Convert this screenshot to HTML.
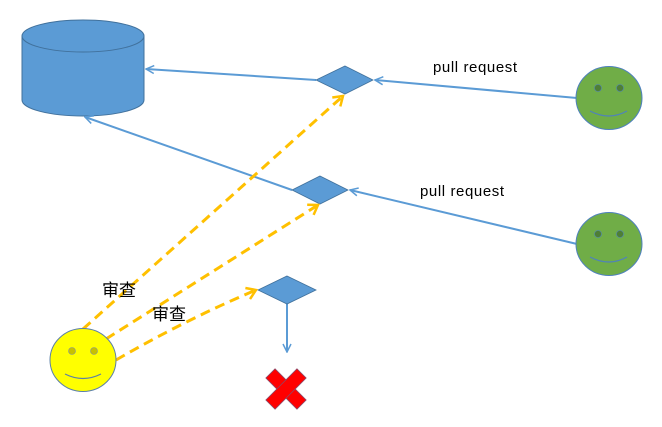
<!DOCTYPE html>
<html><head><meta charset="utf-8"><style>
html,body{margin:0;padding:0;background:#fff;width:662px;height:427px;overflow:hidden}
</style></head><body>
<svg width="662" height="427" viewBox="0 0 662 427" xmlns="http://www.w3.org/2000/svg">
<defs>
<marker id="ab" markerWidth="10" markerHeight="10" refX="9" refY="5" orient="auto" markerUnits="userSpaceOnUse"><path d="M1,1 L9,5 L1,9" fill="none" stroke="#5b9bd5" stroke-width="1.5"/></marker>
<marker id="ay" markerWidth="14" markerHeight="14" refX="11" refY="7" orient="auto" markerUnits="userSpaceOnUse"><path d="M2,1 L11,7 L2,13" fill="none" stroke="#ffc000" stroke-width="2.5"/></marker>
</defs>
<path d="M22,36 L22,100 A61,16 0 0 0 144,100 L144,36 Z" fill="#5b9bd5" stroke="#41719c" stroke-width="1"/>
<ellipse cx="83" cy="36" rx="61" ry="16" fill="#5b9bd5" stroke="#41719c" stroke-width="1"/>
<line x1="316" y1="80" x2="146" y2="69" stroke="#5b9bd5" stroke-width="2" marker-end="url(#ab)"/>
<line x1="577" y1="98" x2="375" y2="80" stroke="#5b9bd5" stroke-width="2" marker-end="url(#ab)"/>
<line x1="292" y1="190" x2="85" y2="117" stroke="#5b9bd5" stroke-width="2" marker-end="url(#ab)"/>
<line x1="577" y1="244" x2="350" y2="190" stroke="#5b9bd5" stroke-width="2" marker-end="url(#ab)"/>
<line x1="287" y1="304" x2="287" y2="352" stroke="#5b9bd5" stroke-width="2" marker-end="url(#ab)"/>
<polygon points="345,66 373,80 345,94 316,80" fill="#5b9bd5" stroke="#41719c" stroke-width="0.8"/>
<polygon points="320,176 348,190 320,204 292,190" fill="#5b9bd5" stroke="#41719c" stroke-width="0.8"/>
<polygon points="287,276 316,290 287,304 258,290" fill="#5b9bd5" stroke="#41719c" stroke-width="0.8"/>
<line x1="83" y1="329" x2="343" y2="96" stroke="#ffc000" stroke-width="3" stroke-dasharray="10,6" marker-end="url(#ay)"/>
<line x1="106" y1="339" x2="318" y2="205" stroke="#ffc000" stroke-width="3" stroke-dasharray="10,6" marker-end="url(#ay)"/>
<path d="M116,360 Q185,320 256,290" fill="none" stroke="#ffc000" stroke-width="3" stroke-dasharray="10,6" marker-end="url(#ay)"/>
<g>
<ellipse cx="609" cy="98" rx="33" ry="31.5" fill="#70ad47" stroke="#4f81bd" stroke-width="1"/>
<circle cx="598" cy="88" r="3.5" fill="#4e7f35" stroke="#4f81bd" stroke-width="0.6"/>
<circle cx="620" cy="88" r="3.5" fill="#4e7f35" stroke="#4f81bd" stroke-width="0.6"/>
<path d="M590,111 Q609,121 627,111" fill="none" stroke="#4f81bd" stroke-width="1.2"/>
</g>
<g>
<ellipse cx="609" cy="244" rx="33" ry="31.5" fill="#70ad47" stroke="#4f81bd" stroke-width="1"/>
<circle cx="598" cy="234" r="3.5" fill="#4e7f35" stroke="#4f81bd" stroke-width="0.6"/>
<circle cx="620" cy="234" r="3.5" fill="#4e7f35" stroke="#4f81bd" stroke-width="0.6"/>
<path d="M590,257 Q609,267 627,257" fill="none" stroke="#4f81bd" stroke-width="1.2"/>
</g>
<g>
<ellipse cx="83" cy="360" rx="33" ry="31.5" fill="#ffff00" stroke="#5b7fa8" stroke-width="1"/>
<circle cx="72" cy="351" r="3.5" fill="#c8c000" stroke="#7f8fa0" stroke-width="0.6"/>
<circle cx="94" cy="351" r="3.5" fill="#c8c000" stroke="#7f8fa0" stroke-width="0.6"/>
<path d="M65,374 Q83,383 101,374" fill="none" stroke="#5b7fa8" stroke-width="1.2"/>
</g>
<g transform="translate(286,389) rotate(45)">
<rect x="-22" y="-6.5" width="44" height="13" fill="#ff0000" stroke="#8a4a6a" stroke-width="0.8"/>
<rect x="-6.5" y="-22" width="13" height="44" fill="#ff0000" stroke="#8a4a6a" stroke-width="0.8"/>
<rect x="-6" y="-6" width="12" height="12" fill="#ff0000"/>
</g>
<text x="433" y="72" font-family="Liberation Sans, sans-serif" font-size="15" textLength="84" fill="#000">pull request</text>
<text x="420" y="196" font-family="Liberation Sans, sans-serif" font-size="15" textLength="84" fill="#000">pull request</text>
<text x="102" y="296" font-family="Liberation Sans, Noto Sans CJK SC, sans-serif" font-size="17" fill="#000">审查</text>
<text x="152" y="320" font-family="Liberation Sans, Noto Sans CJK SC, sans-serif" font-size="17" fill="#000">审查</text>
</svg>
</body></html>
